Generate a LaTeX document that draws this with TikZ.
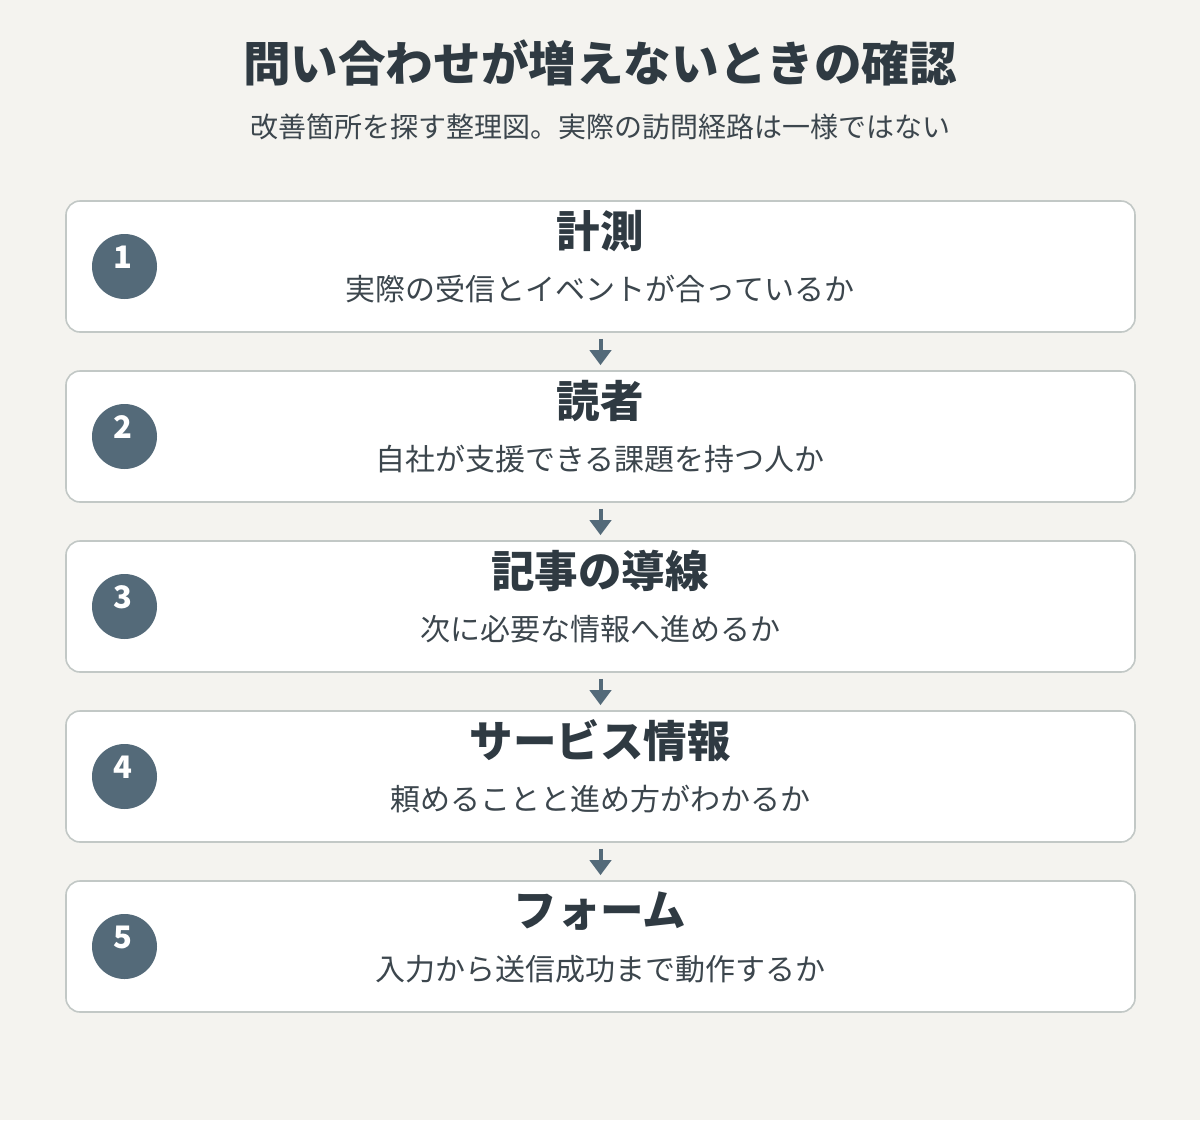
\documentclass[tikz,border=0pt]{standalone}
\usepackage{fontspec}
\setmainfont{Noto Sans CJK JP}
\usetikzlibrary{arrows.meta}
\definecolor{bg}{HTML}{F4F3EF}
\definecolor{ink}{HTML}{2F3A42}
\definecolor{subink}{HTML}{3C464D}
\definecolor{edge}{HTML}{C2C8C6}
\definecolor{accent}{HTML}{546A79}
\tikzset{
  stepbox/.style={draw=edge, line width=1.6pt, fill=white, rounded corners=14pt,
    minimum width=1069pt, minimum height=131pt, inner sep=0pt},
  numdot/.style={circle, fill=accent, minimum size=65pt, inner sep=0pt},
  numtxt/.style={text=white, font=\fontsize{31}{31}\selectfont\bfseries, inner sep=0pt},
  headtxt/.style={text=ink, font=\fontsize{43.5}{44}\selectfont\bfseries, inner sep=0pt},
  bodytxt/.style={text=subink, font=\fontsize{30}{30}\selectfont, inner sep=0pt},
  flow/.style={draw=accent, line width=4pt, -{Triangle[width=21pt,length=15pt]},
    shorten <=6pt, shorten >=5pt}
}
\begin{document}
\begin{tikzpicture}[x=1pt,y=-1pt]
\useasboundingbox[fill=bg] (0,0) rectangle (1200,1120);
\node[text=ink, font=\fontsize{47.6}{48}\selectfont\bfseries, inner sep=0pt] (title) at (600,63) {問い合わせが増えないときの確認};
\node[text=subink, font=\fontsize{28}{28}\selectfont, inner sep=0pt] (subtitle) at (600,127) {改善箇所を探す整理図。実際の訪問経路は一様ではない};
\foreach \i/\head/\body in {
  1/計測/実際の受信とイベントが合っているか,
  2/読者/自社が支援できる課題を持つ人か,
  3/記事の導線/次に必要な情報へ進めるか,
  4/サービス情報/頼めることと進め方がわかるか,
  5/フォーム/入力から送信成功まで動作するか}{
  \pgfmathsetmacro{\cy}{266.5+170*(\i-1)}
  \node[stepbox] (b\i) at (600.5,\cy) {};
  \node[numdot] (d\i) at (124.5,\cy) {};
  \node[numtxt] (n\i) at (122.5,\cy-9) {\i};
  \node[headtxt] (h\i) at (600,\cy-35.5) {\head};
  \node[bodytxt] (t\i) at (600,\cy+22.5) {\body};
}
\foreach \i [evaluate=\i as \j using int(\i+1)] in {1,...,4}{
  \draw[flow] (b\i.south) -- (b\j.north);
}
\end{tikzpicture}
\end{document}
